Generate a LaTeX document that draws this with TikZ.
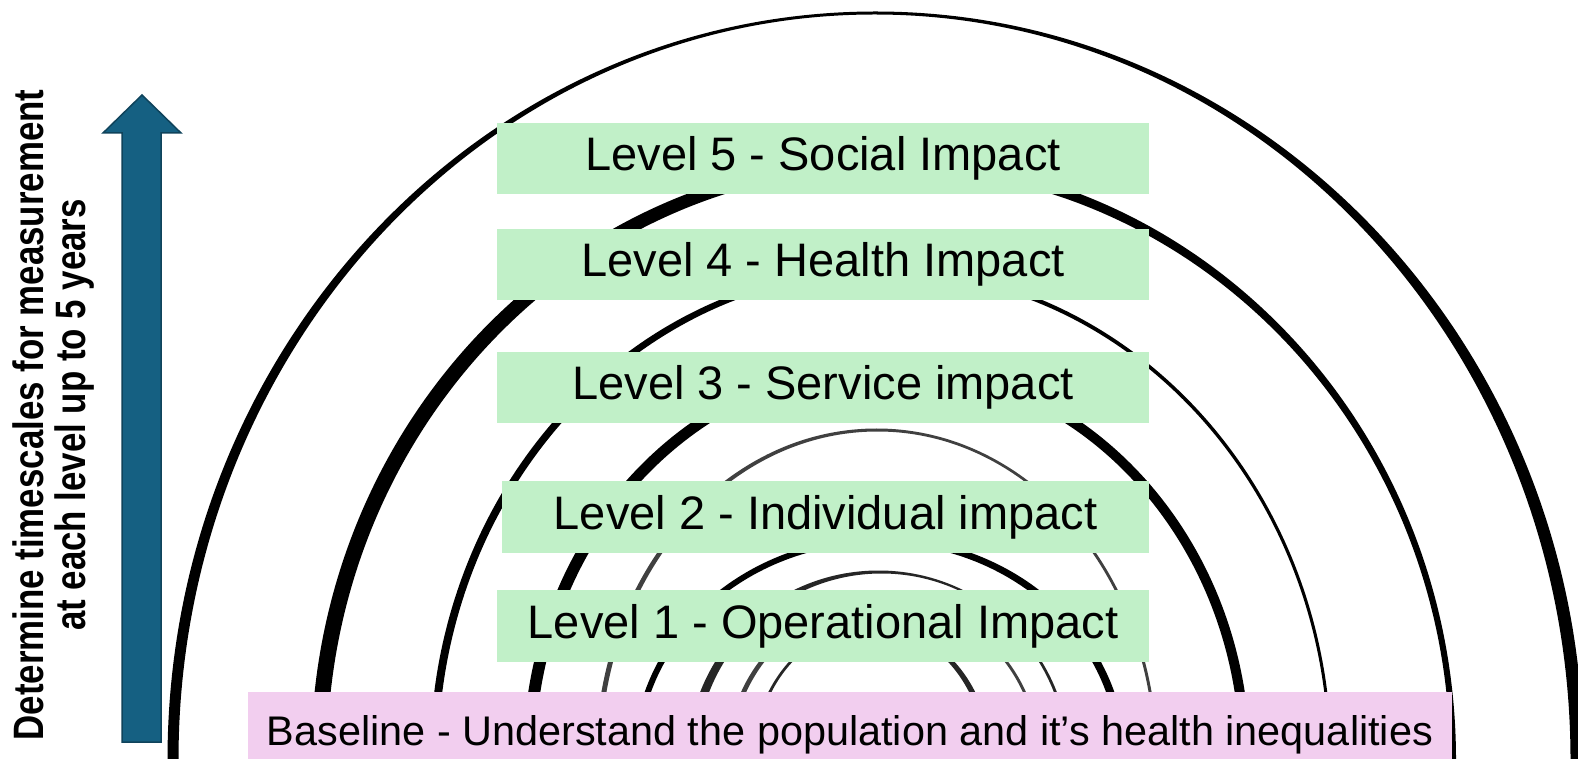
\documentclass[tikz,border=0pt]{standalone}
\usepackage{fontspec}
\setmainfont{Liberation Sans}
\newfontfamily\sidefont[FakeStretch=0.82]{Liberation Sans}
\definecolor{levelgreen}{HTML}{C1F0C8}
\definecolor{basepink}{HTML}{F2CEEF}
\definecolor{arrowblue}{HTML}{156082}

% One tunnel ring: a half-elliptic band whose feet run down to the bottom edge.
% #1 centre x, #2 half width, #3 centre y (measured from the top), #4 half height,
% #5 left thickness, #6 right thickness, #7 top thickness, #8 colour
\newcommand{\ringband}[8]{%
  \pgfmathsetmacro{\rcy}{758-#3}%
  \pgfmathsetmacro{\rsh}{(#5-#6)/4}%
  \pgfmathsetmacro{\rda}{(#5+#6)/4}%
  \pgfmathsetmacro{\rAo}{#2+\rda}%
  \pgfmathsetmacro{\rAi}{#2-\rda}%
  \pgfmathsetmacro{\rBo}{#4+#7/2}%
  \pgfmathsetmacro{\rBi}{#4-#7/2}%
  \pgfmathsetmacro{\rxo}{#1-\rsh}%
  \pgfmathsetmacro{\rxi}{#1+\rsh}%
  \fill[#8] (\rxo-\rAo,-10) -- (\rxo-\rAo,\rcy)
    arc[start angle=180,end angle=0,x radius=\rAo,y radius=\rBo]
    -- (\rxo+\rAo,-10) -- (\rxi+\rAi,-10) -- (\rxi+\rAi,\rcy)
    arc[start angle=0,end angle=180,x radius=\rAi,y radius=\rBi]
    -- (\rxi-\rAi,-10) -- cycle;
}

\tikzset{
  levelbox/.style={fill=levelgreen, inner sep=0pt, minimum width=652pt,
    minimum height=71pt, text=black, font=\fontsize{47}{50}\selectfont},
  basebox/.style={fill=basepink, inner sep=0pt, minimum width=1204pt,
    minimum height=86pt, text=black, font=\fontsize{41.4}{44}\selectfont},
  sidelabel/.style={rotate=90, align=center, text=black,
    font=\sidefont\bfseries\fontsize{42.5}{42}\selectfont},
  blockarrow/.style={fill=arrowblue, draw=arrowblue!70!black, line width=1.5pt}
}

\begin{document}
\begin{tikzpicture}[x=1pt,y=1pt]
\fill[white] (0,0) rectangle (1578,758);
\useasboundingbox (0,0) rectangle (1578,758);

% tunnel rings, outermost first
\ringband{875}{702}{760}{747}{11}{13}{3}{black}
\ringband{886}{567}{760}{597}{16}{6}{11}{black}
\ringband{882}{448}{760}{490}{8}{3}{5}{black}
\ringband{887}{358}{760}{395}{12}{10}{10}{black}
\ringband{877}{279}{760}{330}{5}{3}{3}{black!75}
\ringband{879}{243}{760}{220}{6}{8}{6}{black}
\ringband{880}{188}{760}{188}{9}{3}{3}{black!85}
\ringband{884}{155}{760}{160}{5}{3}{3}{black!75}
\ringband{871}{117}{760}{135}{3}{6}{3}{black!85}

% level labels
\node[levelbox] (lvl5) at (823,599.5) {Level 5 - Social Impact};
\node[levelbox] (lvl4) at (823,493.5) {Level 4 - Health Impact};
\node[levelbox] (lvl3) at (823,370.5) {Level 3 - Service impact};
\node[levelbox, minimum width=647pt, minimum height=72pt] (lvl2) at (825.5,241) {Level 2 - Individual impact};
\node[levelbox, minimum height=72pt] (lvl1) at (823,132) {Level 1 - Operational Impact};
\node[basebox] (base) at (850,23) {\raisebox{-10pt}{Baseline - Understand the population and it’s health inequalities}};

% time arrow and its caption
\filldraw[blockarrow] (122,16) -- (122,625) -- (103,625) -- (142,663)
  -- (181,625) -- (161,625) -- (161,16) -- cycle;
\node[sidelabel] (timescale) at (54,343)
  {Determine timescales for measurement\\at each level up to 5 years};
\end{tikzpicture}
\end{document}
